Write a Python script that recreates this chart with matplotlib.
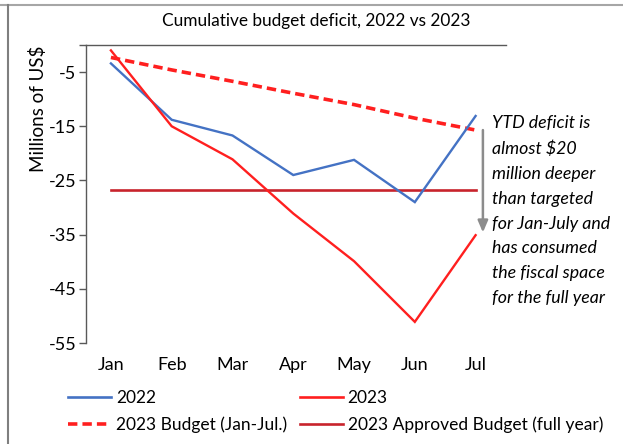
import matplotlib
matplotlib.use("Agg")
import matplotlib.pyplot as plt
from matplotlib.lines import Line2D

plt.rcParams['font.family'] = ['Lato', 'DejaVu Sans']

months = ["Jan", "Feb", "Mar", "Apr", "May", "Jun", "Jul"]
deficit_2022 = [-3.4, -13.8, -16.7, -24.0, -21.2, -29.0, -13.1]
deficit_2023 = [-1.0, -15.0, -21.1, -31.1, -39.9, -51.1, -35.1]
budget_2023_jan_jul = [-2.3, -4.6, -6.7, -8.9, -11.0, -13.5, -15.7]
approved_budget_full_year = -26.7
y_ticks = [-55, -45, -35, -25, -15, -5]

W, H = 623, 444
fig = plt.figure(figsize=(W / 100, H / 100), dpi=100)

# chart-area border (top and left edges)
fig.add_artist(Line2D([0, 1], [1 - 5 / H, 1 - 5 / H], color="#a6a6a6", lw=1.5, transform=fig.transFigure))
fig.add_artist(Line2D([8 / W, 8 / W], [0, 1 - 5 / H], color="#7f7f7f", lw=1.5, transform=fig.transFigure))

left, right = 86 / W, 506 / W
bottom, top = (H - 343) / H, (H - 45) / H
ax = fig.add_axes([left, bottom, right - left, top - bottom])

x = list(range(len(months)))
ax.plot(x, deficit_2022, color="#4472C4", lw=1.7, solid_joinstyle="miter", zorder=4)
ax.plot(x, deficit_2023, color="#FF1F1F", lw=1.7, solid_joinstyle="miter", zorder=5)
ax.plot(x, budget_2023_jan_jul, color="#FF1F1F", lw=2.6, ls=(0, (2.6, 1.4)), zorder=3)
ax.plot([x[0], x[-1]], [approved_budget_full_year] * 2, color="#C8232C", lw=1.9, zorder=2)

ax.set_xlim(-0.41, 6.5)
ax.set_ylim(-55, 0)

for side in ("right", "bottom"):
    ax.spines[side].set_visible(False)
for side in ("left", "top"):
    ax.spines[side].set_color("#595959")
    ax.spines[side].set_linewidth(1.0)

ax.set_yticks(y_ticks + [0])
ax.set_yticklabels([str(v) for v in y_ticks] + [""])
ax.tick_params(axis="y", direction="out", length=5, width=1.0, color="#595959",
               labelsize=13, pad=2, labelcolor="#000000")
ax.set_xticks(x)
ax.set_xticklabels(months)
ax.tick_params(axis="x", length=0, labelsize=13, pad=10, labelcolor="#000000")

fig.text(316 / W, 1 - 21 / H, "Cumulative budget deficit, 2022 vs 2023", fontsize=12.4,
         ha="center", va="center")
fig.text(38 / W, 1 - 109 / H, "Millions of US$", rotation=90, fontsize=13.5,
         ha="center", va="center")

# gap between the Jan-Jul budget and the actual 2023 deficit
ax.annotate("", xy=(6.12, -34.6), xytext=(6.12, -15.7),
            arrowprops=dict(arrowstyle="-|>,head_length=0.7,head_width=0.3",
                            color="#8c8c8c", lw=1.8, shrinkA=0, shrinkB=0),
            annotation_clip=False)
ax.text(6.27, -13.0, "YTD deficit is\nalmost $20\nmillion deeper\nthan targeted\nfor Jan-July and\nhas consumed\nthe fiscal space\nfor the full year",
        fontsize=12.8, style="italic", ha="left", va="top", linespacing=1.68, clip_on=False)

handles = [
    Line2D([], [], color="#4472C4", lw=1.9),
    Line2D([], [], color="#FF1F1F", lw=2.6, ls=(0, (2.6, 1.4))),
    Line2D([], [], color="#FF1F1F", lw=1.9),
    Line2D([], [], color="#C8232C", lw=1.9),
]
labels = ["2022", "2023 Budget (Jan-Jul.)", "2023", "2023 Approved Budget (full year)"]
fig.legend(handles, labels, ncol=2, loc="upper left", bbox_to_anchor=(68 / W, 1 - 390 / H),
           frameon=False, fontsize=12.5, handlelength=2.5, handletextpad=0.25,
           columnspacing=0.75, labelspacing=0.6, borderaxespad=0, borderpad=0)

fig.savefig("out.png", dpi=100)
